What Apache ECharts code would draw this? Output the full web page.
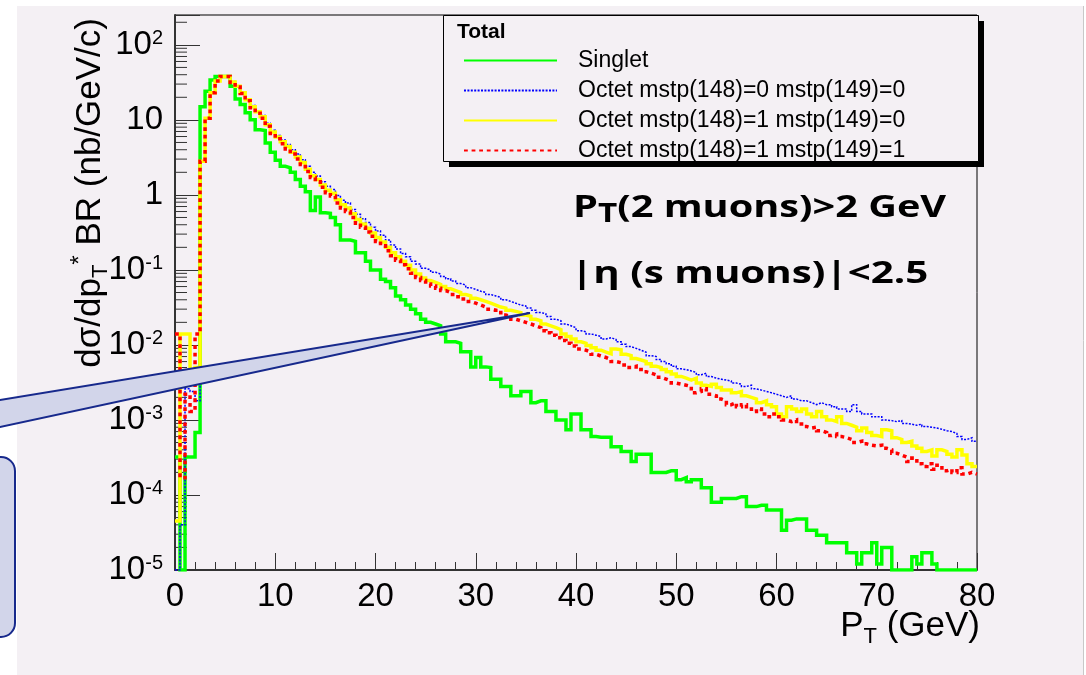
<!DOCTYPE html>
<html>
<head>
<meta charset="utf-8">
<script src="https://cdn.jsdelivr.net/npm/echarts@6/dist/echarts.min.js"></script>
<style>
html, body { margin: 0; padding: 0; background: #fff; }
#chart { width: 1086px; height: 675px; }
</style>
</head>
<body>
<div id="chart"></div>
<script>
// histogram bins: 0.5 GeV wide, 0 -> 80 GeV
const binWidth = 0.5;
const seriesNames = ['Singlet', 'Octet mstp(148)=0 mstp(149)=0', 'Octet mstp(148)=1 mstp(149)=0', 'Octet mstp(148)=1 mstp(149)=1'];

const singlet = [
    3.2e-4, 1e-5, 3.2e-4, 3.2e-4, 6.8e-4, 15, 24, 34, 38, 38,
    38, 28, 19, 16, 12.4, 10, 7.4, 7.2, 4.9, 3.7,
    2.9, 2.4, 2.3, 2.0, 1.6, 1.3, 1.1, 0.62, 0.94, 0.58,
    0.57, 0.5, 0.4, 0.25, 0.25, 0.24, 0.17, 0.17, 0.13, 0.1,
    0.1, 0.075, 0.07, 0.058, 0.045, 0.04, 0.034, 0.03, 0.026, 0.022,
    0.02, 0.019, 0.018, 0.014, 0.011, 0.011, 0.0105, 0.0081, 0.0081, 0.0051,
    0.0068, 0.0051, 0.005, 0.0035, 0.0035, 0.0028, 0.0028, 0.0021, 0.0021, 0.0024,
    0.0024, 0.0017, 0.0018, 0.0018, 0.0013, 0.0013, 0.001, 0.001, 7.4e-4, 1.2e-3,
    1.2e-3, 7.4e-4, 7.4e-4, 6.0e-4, 5.9e-4, 5.9e-4, 5.9e-4, 4.4e-4, 4.4e-4, 3.8e-4,
    3.8e-4, 2.8e-4, 3.5e-4, 3.5e-4, 3.5e-4, 2.0e-4, 2.0e-4, 2.0e-4, 2.1e-4, 2.1e-4,
    1.6e-4, 1.7e-4, 1.5e-4, 1.6e-4, 1.6e-4, 1.25e-4, 1.25e-4, 8e-5, 8e-5, 9e-5,
    9e-5, 9e-5, 9.5e-5, 9.5e-5, 7e-5, 7e-5, 7.3e-5, 7.3e-5, 6.3e-5, 6.3e-5,
    6.3e-5, 3.4e-5, 4.6e-5, 4.8e-5, 4.8e-5, 4.8e-5, 3.4e-5, 3.4e-5, 2.9e-5, 2.9e-5,
    2.3e-5, 2.3e-5, 2.3e-5, 2.3e-5, 1.7e-5, 1.7e-5, 1.2e-5, 1.7e-5, 1.7e-5, 2.3e-5,
    1.2e-5, 2e-5, 2e-5, 1e-5, 1e-5, 1e-5, 1e-5, 1.5e-5, 1.2e-5, 1.7e-5,
    1.7e-5, 1.2e-5, 1e-5, 1e-5, 1e-5, 1e-5, 1e-5, 1e-5, 1e-5, 1e-5
];
const octet00 = [
    1e-5, 4e-5, 2.6e-3, 2.4e-3, 1.8e-3, 2.8, 10.5, 23, 33, 38,
    38, 32.5, 28.5, 23.5, 19, 15.5, 13.2, 11.4, 9, 7.3,
    6.2, 5.4, 4.7, 4.0, 3.5, 2.95, 2.4, 2.0, 1.78, 1.5,
    1.3, 1.18, 0.98, 0.85, 0.78, 0.64, 0.55, 0.48, 0.43, 0.37,
    0.33, 0.29, 0.25, 0.215, 0.19, 0.165, 0.15, 0.13, 0.12, 0.105,
    0.1, 0.093, 0.088, 0.082, 0.076, 0.071, 0.066, 0.063, 0.058, 0.055,
    0.052, 0.05, 0.047, 0.045, 0.043, 0.04, 0.038, 0.036, 0.034, 0.033,
    0.031, 0.029, 0.027, 0.026, 0.024, 0.022, 0.021, 0.019, 0.018, 0.017,
    0.0155, 0.015, 0.014, 0.0135, 0.013, 0.012, 0.0125, 0.0118, 0.011, 0.0102,
    0.0095, 0.009, 0.0085, 0.008, 0.0072, 0.007, 0.0064, 0.006, 0.0056, 0.0052,
    0.0048, 0.0047, 0.0045, 0.0043, 0.004, 0.0042, 0.0038, 0.0036, 0.0035, 0.0034,
    0.0033, 0.0031, 0.003, 0.0028, 0.0029, 0.0026, 0.0025, 0.0024, 0.0023, 0.0022,
    0.0021, 0.002, 0.0021, 0.0019, 0.0018, 0.0018, 0.0017, 0.0016, 0.0017, 0.0016,
    0.0016, 0.0015, 0.0014, 0.0014, 0.0013, 0.0016, 0.0013, 0.0012, 0.0012, 0.0011,
    0.0011, 0.001, 0.00098, 0.00095, 0.00098, 0.0009, 0.00088, 0.00085, 0.00088, 0.00082,
    0.0008, 0.00078, 0.00075, 0.00072, 0.0007, 0.00066, 0.0006, 0.00055, 0.00058, 0.00052
];
const octet10 = [
    4.5e-5, 0.014, 0.014, 0.004, 0.005, 2.8, 10.5, 23, 33, 38,
    38, 32, 28, 23, 18.5, 15, 12.8, 11, 8.6, 6.9,
    5.9, 5.1, 4.4, 3.7, 3.2, 2.7, 2.2, 1.8, 1.6, 1.35,
    1.15, 1.05, 0.86, 0.74, 0.67, 0.56, 0.47, 0.41, 0.36, 0.31,
    0.27, 0.235, 0.2, 0.17, 0.15, 0.13, 0.115, 0.1, 0.088, 0.078,
    0.072, 0.068, 0.064, 0.06, 0.056, 0.053, 0.05, 0.047, 0.045, 0.042,
    0.04, 0.038, 0.036, 0.034, 0.032, 0.031, 0.029, 0.028, 0.027, 0.025,
    0.024, 0.022, 0.021, 0.019, 0.018, 0.017, 0.016, 0.014, 0.013, 0.012,
    0.011, 0.0105, 0.0098, 0.0092, 0.0085, 0.008, 0.0076, 0.0088, 0.0086, 0.0075,
    0.0072, 0.0066, 0.0063, 0.006, 0.0056, 0.0052, 0.005, 0.0047, 0.0044, 0.0041,
    0.0038, 0.0036, 0.0034, 0.0036, 0.0031, 0.0029, 0.0028, 0.003, 0.0027, 0.0025,
    0.0025, 0.0023, 0.0024, 0.0021, 0.002, 0.0019, 0.0017, 0.0018, 0.0016, 0.0015,
    0.0012, 0.0011, 0.0015, 0.0014, 0.0013, 0.0014, 0.0012, 0.0011, 0.0013, 0.0011,
    0.001, 0.00095, 0.0011, 0.0009, 0.00085, 0.0008, 0.00072, 0.00078, 0.00068, 0.00062,
    0.0006, 0.00074, 0.00072, 0.00058, 0.00055, 0.0005, 0.00052, 0.00045, 0.00042, 0.00038,
    0.0004, 0.00033, 0.0004, 0.00038, 0.00035, 0.00032, 0.0004, 0.00034, 0.00026, 0.00024
];
const octet11 = [
    0.014, 1.7e-4, 2.2e-3, 1.3e-3, 0.014, 2.8, 10.5, 23, 33, 38,
    38, 31.5, 27.5, 22.5, 18, 14.5, 12.3, 10.5, 8.2, 6.6,
    5.6, 4.8, 4.1, 3.5, 3.0, 2.55, 2.05, 1.7, 1.5, 1.26,
    1.07, 0.97, 0.78, 0.67, 0.6, 0.5, 0.42, 0.37, 0.32, 0.28,
    0.24, 0.21, 0.18, 0.155, 0.135, 0.117, 0.104, 0.09, 0.079, 0.072,
    0.065, 0.061, 0.057, 0.053, 0.05, 0.047, 0.044, 0.041, 0.038, 0.036,
    0.034, 0.032, 0.03, 0.029, 0.027, 0.025, 0.024, 0.022, 0.021, 0.02,
    0.019, 0.018, 0.017, 0.0155, 0.0145, 0.0135, 0.0125, 0.0115, 0.0105, 0.0097,
    0.0088, 0.0085, 0.008, 0.0075, 0.0071, 0.0068, 0.0064, 0.006, 0.0058, 0.0054,
    0.005, 0.0052, 0.0047, 0.0044, 0.0042, 0.004, 0.0037, 0.0035, 0.0033, 0.0031,
    0.003, 0.0029, 0.0028, 0.0023, 0.0024, 0.0026, 0.0022, 0.0021, 0.0019, 0.0018,
    0.0016, 0.0017, 0.0015, 0.0016, 0.0014, 0.0013, 0.0014, 0.0012, 0.0011, 0.0012,
    0.0011, 0.001, 0.00095, 0.001, 0.00088, 0.00082, 0.00078, 0.0008, 0.00072, 0.00068,
    0.00062, 0.00065, 0.0006, 0.00058, 0.00055, 0.0005, 0.00052, 0.00048, 0.00046, 0.00045,
    0.00046, 0.00042, 0.0004, 0.00036, 0.00034, 0.00032, 0.00028, 0.00031, 0.00026, 0.00024,
    0.00026, 0.00022, 0.00025, 0.00021, 0.00022, 0.0002, 0.00023, 0.00019, 0.0002, 0.00019
];

// log axis minor ticks (2..9 in each decade)
const minorMult = [2, 3, 4, 5, 6, 7, 8, 9];
const decades = [1e-5, 1e-4, 1e-3, 1e-2, 1e-1, 1, 10, 100];
const yMax = 250;
const minorTicks = [];
decades.forEach(d => minorMult.forEach(m => { if (m * d < yMax) minorTicks.push([0, m * d]); }));

const font = 'Liberation Sans';
const panel = '#f4f0f4';
const calloutFill = '#d2d5ea';
const calloutLine = '#17298c';

// left edge of each bin + closing point at the last edge
function histPoints(values) {
    let pts = values.map((v, i) => [i * binWidth, v]);
    pts.push([values.length * binWidth, values[values.length - 1]]);
    return pts;
}

function powLabel(v) {
    let e = Math.log10(v);
    let n = Math.round(e);
    if (Math.abs(e - n) > 1e-6) return '';
    if (n === 0) return '1';
    if (n === 1) return '10';
    return '10{sup|' + n + '}';
}

function histSeries(name, values, color, width, dash) {
    return {
        name: name,
        type: 'line',
        data: histPoints(values),
        step: 'end',
        symbol: 'none',
        color: color,
        silent: true,
        lineStyle: { color: color, width: width, type: dash, cap: 'butt', join: 'miter' }
    };
}

let myChart = echarts.init(document.getElementById('chart'));
let option = {
    backgroundColor: '#fff',
    animation: false,
    grid: {
        left: 175, top: 15, width: 802, height: 555,
        show: true, borderColor: '#000', borderWidth: 1, backgroundColor: 'transparent'
    },
    legend: {
        data: seriesNames,
        orient: 'vertical',
        left: 458,
        top: 44,
        itemWidth: 93,
        itemHeight: 14,
        itemGap: 7,
        selectedMode: false,
        // hide the marker dot, keep only the line
        itemStyle: { opacity: 0 },
        textStyle: { fontFamily: font, fontSize: 23, color: '#000', lineHeight: 20, padding: [0, 0, 0, 16] }
    },
    xAxis: {
        type: 'value',
        min: 0,
        max: 80,
        interval: 10,
        axisLine: { onZero: false, lineStyle: { color: '#333', width: 2 } },
        axisTick: { inside: true, length: 17, lineStyle: { color: '#333', width: 1 } },
        minorTick: { show: true, splitNumber: 5, length: 8, lineStyle: { color: '#333', width: 1 } },
        axisLabel: { margin: 10, fontFamily: font, fontSize: 33, color: '#000' },
        splitLine: { show: false }
    },
    yAxis: {
        type: 'log',
        logBase: 10,
        min: 1e-5,
        max: yMax,
        splitNumber: 8,
        axisLine: { show: true, lineStyle: { color: '#333', width: 2 } },
        axisTick: { show: true, inside: true, length: 25, lineStyle: { color: '#333', width: 1 } },
        axisLabel: {
            formatter: powLabel,
            margin: 12,
            fontFamily: font,
            fontSize: 33,
            color: '#000',
            rich: { sup: { fontFamily: font, fontSize: 20, color: '#000', verticalAlign: 'top' } }
        },
        splitLine: { show: false }
    },
    series: [
        histSeries(seriesNames[0], singlet, '#00ff00', 3.5, 'solid'),
        histSeries(seriesNames[1], octet00, '#0000ff', 1.5, [2, 1.4]),
        histSeries(seriesNames[2], octet10, '#ffff00', 3.5, 'solid'),
        histSeries(seriesNames[3], octet11, '#ff0000', 3.5, [3.8, 3.8]),
        {
            type: 'custom',
            silent: true,
            data: minorTicks,
            renderItem: function (params, api) {
                let p = api.coord([0, api.value(1)]);
                return {
                    type: 'line',
                    shape: { x1: p[0], y1: p[1], x2: p[0] + 12, y2: p[1] },
                    style: { stroke: '#333', lineWidth: 1 }
                };
            }
        }
    ],
    graphic: [
        // slide panel
        { type: 'rect', z: -10, silent: true, shape: { x: 17, y: 6, width: 1066, height: 670 }, style: { fill: panel } },
        { type: 'line', z: -9, silent: true, shape: { x1: 1083.5, y1: 6, x2: 1083.5, y2: 675 }, style: { stroke: '#c8c8c8', lineWidth: 1 } },
        // legend box with shadow
        { type: 'rect', z: 3, silent: true, shape: { x: 449, y: 21, width: 535, height: 146 }, style: { fill: '#000' } },
        { type: 'rect', z: 3, silent: true, shape: { x: 443.5, y: 15.5, width: 535, height: 146 }, style: { fill: panel, stroke: '#000', lineWidth: 1 } },
        {
            type: 'text', z: 5, x: 457, y: 32, silent: true,
            style: { text: 'Total', fontFamily: font, fontWeight: 'bold', fontSize: 21, fill: '#000', verticalAlign: 'middle', textVerticalAlign: 'middle' }
        },
        // axis titles
        {
            type: 'text', z: 5, x: 90, y: 18, rotation: Math.PI / 2, silent: true,
            style: {
                text: '{m|dσ/dp}{sub|T}{sup|*}{m| BR (nb/GeV/c)}',
                fill: '#000',
                align: 'right', textAlign: 'right', verticalAlign: 'middle', textVerticalAlign: 'middle',
                rich: {
                    m: { fontFamily: font, fontSize: 35, lineHeight: 44 },
                    sub: { fontFamily: font, fontSize: 22, lineHeight: 22, verticalAlign: 'bottom' },
                    sup: { fontFamily: font, fontSize: 24, lineHeight: 24, verticalAlign: 'top' }
                }
            }
        },
        {
            type: 'text', z: 5, x: 980, y: 604, silent: true,
            style: {
                text: '{m|P}{sub|T}{m| (GeV)}',
                fill: '#000',
                align: 'right', textAlign: 'right', verticalAlign: 'top', textVerticalAlign: 'top',
                rich: {
                    m: { fontFamily: font, fontSize: 35, lineHeight: 44 },
                    sub: { fontFamily: font, fontSize: 22, lineHeight: 22, verticalAlign: 'bottom' }
                }
            }
        },
        // cut annotation
        {
            type: 'text', z: 5, x: 573, y: 188, scaleX: 1.28, silent: true,
            style: {
                text: '{b|P}{bs|T}{b|(2 muons)>2 GeV}',
                fill: '#000',
                align: 'left', textAlign: 'left', verticalAlign: 'top', textVerticalAlign: 'top',
                rich: {
                    b: { fontFamily: 'Open Sans', fontWeight: 'bold', fontSize: 31, lineHeight: 40 },
                    bs: { fontFamily: 'Open Sans', fontWeight: 'bold', fontSize: 26, lineHeight: 26, verticalAlign: 'bottom' }
                }
            }
        },
        {
            type: 'text', z: 5, x: 571, y: 259, scaleX: 1.3, silent: true,
            style: {
                text: '|η (s muons)|<2.5',
                fill: '#000', fontFamily: 'Open Sans', fontWeight: 'bold', fontSize: 31,
                align: 'left', textAlign: 'left', verticalAlign: 'top', textVerticalAlign: 'top'
            }
        },
        // callout
        {
            type: 'rect', z: 10, silent: true,
            shape: { x: -40, y: 457, width: 55, height: 180, r: 14 },
            style: { fill: calloutFill, stroke: calloutLine, lineWidth: 2 }
        },
        {
            type: 'polygon', z: 10, silent: true,
            shape: { points: [[-10, 401.6], [530, 313], [-10, 429.2]] },
            style: { fill: calloutFill, stroke: calloutLine, lineWidth: 2 }
        }
    ]
};
option && myChart.setOption(option);
</script>
</body>
</html>
